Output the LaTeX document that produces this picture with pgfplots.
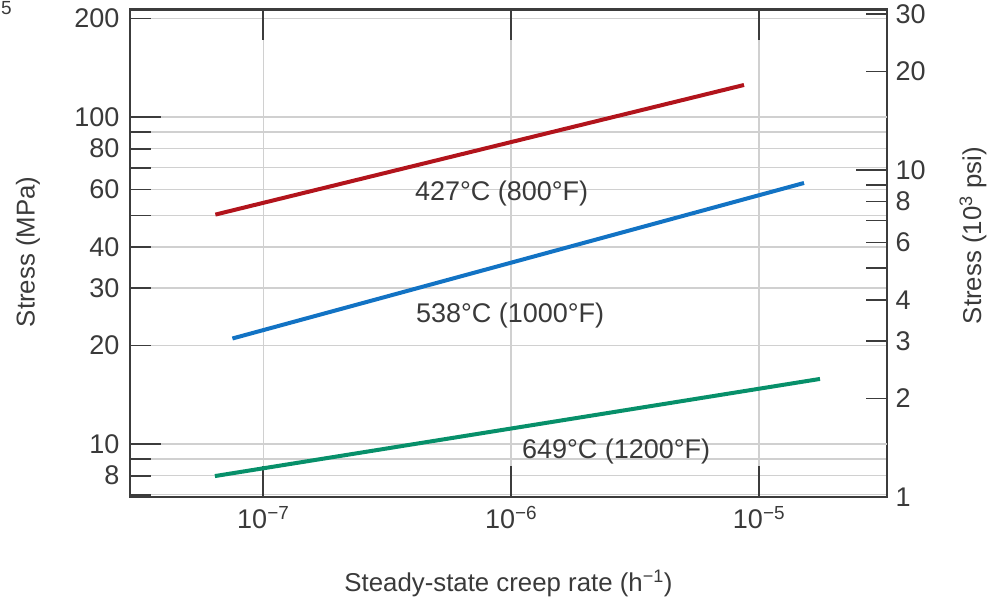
\documentclass[border=0pt]{standalone}
\usepackage{fontspec}
\setmainfont{Liberation Sans}
\usepackage{pgfplots}
\pgfplotsset{compat=1.18}
\definecolor{txt}{HTML}{3A3A3A}
\definecolor{frame}{HTML}{3C3C3C}
\definecolor{gridc}{HTML}{D0D0D0}
\definecolor{cred}{HTML}{B2141C}
\definecolor{cblue}{HTML}{1273C4}
\definecolor{cgreen}{HTML}{07906A}
\newcommand{\fs}{\fontsize{27}{32}\selectfont}
\newcommand{\fl}{\fontsize{25.8}{30}\selectfont}
\begin{document}
\begin{tikzpicture}
\useasboundingbox (-130pt,-101pt) rectangle (865pt,497pt);
\node[text=txt, font=\fontsize{19}{22}\selectfont, anchor=north west, inner sep=0pt] at (-129pt,496pt) {5};
\begin{axis}[
  at={(0pt,0pt)}, anchor=south west,
  scale only axis, width=757pt, height=487.5pt,
  xmode=log, ymode=log,
  xmin=2.899e-8, xmax=3.283e-5,
  ymin=6.885, ymax=213.2,
  xminorticks=false, yminorticks=false,
  xtick=\empty,
  extra x ticks={1e-7,1e-6,1e-5},
  extra x tick labels={10\textsuperscript{−7},10\textsuperscript{−6},10\textsuperscript{−5}},
  extra x tick style={major tick length=31pt, grid=major},
  ytick={200,90,80,70,60,50,40,30,20,9,8,7},
  yticklabels={200,,80,,60,,40,30,20,,8,},
  extra y ticks={100,10},
  extra y tick labels={100,10},
  extra y tick style={major tick length=31pt, grid=major},
  ytick pos=left,
  xtick pos=both,
  tick align=inside,
  major tick length=21pt,
  tick style={draw=frame, line width=1.8pt},
  grid=major,
  major grid style={draw=gridc, line width=1.4pt},
  axis line style={draw=frame, line width=2.2pt},
  tick label style={font=\fs, text=txt},
  xticklabel style={yshift=-6pt},
  yticklabel style={xshift=-7pt},
  xlabel={Steady-state creep rate (h\textsuperscript{−1})},
  ylabel={Stress (MPa)},
  label style={font=\fl, text=txt},
  xlabel style={at={(axis description cs:0.5,-0.177)}, anchor=center},
  ylabel style={at={(axis description cs:-0.1347,0.503)}, anchor=center, rotate=0},
]
\addplot[cred, line width=4pt] coordinates {(6.41e-8,50.3) (8.70e-6,125.3)};
\addplot[cblue, line width=4pt] coordinates {(7.51e-8,21.02) (1.519e-5,62.84)};
\addplot[cgreen, line width=4pt] coordinates {(6.38e-8,7.98) (1.762e-5,15.81)};
\node[anchor=base west, inner sep=0pt, font=\fontsize{27}{32}\selectfont, text=txt] at (axis cs:4.088e-7,55.74) {427°C (800°F)};
\node[anchor=base west, inner sep=0pt, font=\fontsize{27}{32}\selectfont, text=txt] at (axis cs:4.126e-7,23.45) {538°C (1000°F)};
\node[anchor=base west, inner sep=0pt, font=\fontsize{27}{32}\selectfont, text=txt] at (axis cs:1.104e-6,9.0) {649°C (1200°F)};
\end{axis}
\begin{axis}[
  at={(0pt,0pt)}, anchor=south west,
  scale only axis, width=757pt, height=487.5pt,
  xmode=log, ymode=log,
  xmin=2.899e-8, xmax=3.283e-5,
  ymin=1, ymax=30.92,
  xminorticks=false, yminorticks=false,
  hide x axis,
  axis y line*=right,
  y axis line style={draw=none},
  ytick={30,20,9,8,7,6,5,4,3,2,1},
  yticklabels={30,20,,8,,6,,4,3,2,1},
  extra y ticks={10},
  extra y tick labels={10},
  extra y tick style={major tick length=31pt},
  tick align=inside,
  major tick length=21pt,
  tick style={draw=frame, line width=1.8pt},
  tick label style={font=\fs, text=txt},
  yticklabel style={xshift=5pt},
  ylabel={Stress (10\textsuperscript{3} psi)},
  label style={font=\fl, text=txt},
  ylabel style={at={(axis description cs:1.1136,0.536)}, anchor=center, rotate=0},
]
\addplot[draw=none] coordinates {(1e-7,2) (1e-6,3)};
\end{axis}
\end{tikzpicture}
\end{document}
